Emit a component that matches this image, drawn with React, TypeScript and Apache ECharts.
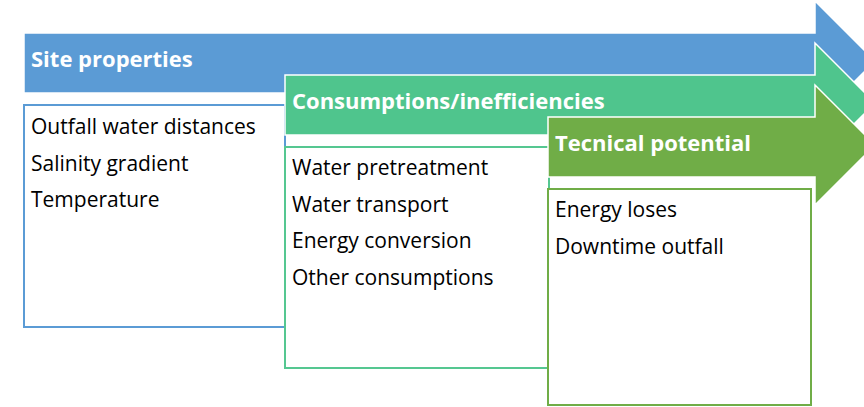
import React, { useEffect, useRef } from "react";
import * as echarts from "echarts";

const stageTitles = ["Site properties", "Consumptions/inefficiencies", "Tecnical potential"];
const stageItems = [
  ["Outfall water distances", "Salinity gradient", "Temperature"],
  ["Water pretreatment", "Water transport", "Energy conversion", "Other consumptions"],
  ["Energy loses", "Downtime outfall"],
];
const arrowColors = ["#5B9BD5", "#4FC58D", "#70AD47"];
const boxColors = ["#5B9BD5", "#55C791", "#70AD47"];

// layout (pixels)
const arrowLeft = [24, 285, 548];
const bodyTop = [33, 75, 117];
const bodyH = 60;
const headX = 815;
const headHalf = 60;
const headLen = 60;
const boxRect = [
  { x: 24, y: 105, w: 261, h: 222 },
  { x: 285, y: 147, w: 264, h: 221 },
  { x: 548, y: 189, w: 263, h: 216 },
];
const lineStart = [126, 167, 209];
const lineGap = 36.5;
const FONT = "'Open Sans', 'Noto Sans', sans-serif";

export default function App() {
  const ref = useRef<HTMLDivElement>(null);
  useEffect(() => {
    document.body.style.margin = "0";
    if (!ref.current) return;
    const chart = echarts.init(ref.current, undefined, { renderer: "svg" });
    const els: any[] = [];
    stageTitles.forEach((title, i) => {
      const t = bodyTop[i];
      const b = t + bodyH;
      const c = (t + b) / 2 - 2;
      els.push({
        type: "polygon",
        z: i * 10 + 1,
        shape: {
          points: [
            [arrowLeft[i], t],
            [headX, t],
            [headX, c - headHalf],
            [headX + headLen, c],
            [headX, c + headHalf],
            [headX, b],
            [arrowLeft[i], b],
          ],
        },
        style: { fill: arrowColors[i], stroke: "#ffffff", lineWidth: 1.5 },
      });
      els.push({
        type: "text",
        z: i * 10 + 2,
        x: arrowLeft[i] + 7,
        y: t + bodyH / 2 - 5,
        style: {
          text: title,
          fill: "#ffffff",
          font: `bold 22px ${FONT}`,
          textVerticalAlign: "middle",
        },
      });
      const r = boxRect[i];
      els.push({
        type: "rect",
        z: i * 10 + 3,
        shape: { x: r.x, y: r.y, width: r.w, height: r.h },
        style: { fill: "#ffffff", stroke: boxColors[i], lineWidth: 2 },
      });
      stageItems[i].forEach((item, j) => {
        els.push({
          type: "text",
          z: i * 10 + 4,
          x: r.x + 7,
          y: lineStart[i] + j * lineGap,
          style: {
            text: item,
            fill: "#000000",
            font: `21px ${FONT}`,
            textVerticalAlign: "middle",
          },
        });
      });
    });
    chart.setOption({ animation: false, graphic: { elements: els } });
    return () => chart.dispose();
  }, []);
  return <div ref={ref} style={{ width: 864, height: 407, background: "#fff" }} />;
}
